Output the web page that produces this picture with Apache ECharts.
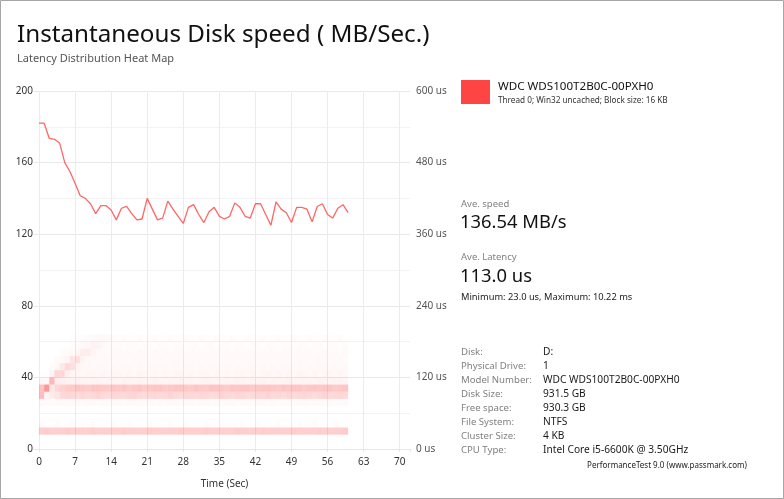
<!DOCTYPE html>
<html>
<head>
<meta charset="utf-8">
<script src="https://cdn.jsdelivr.net/npm/echarts@6/dist/echarts.min.js"></script>
<style>
html,body{margin:0;padding:0;background:#fff;}
#chart{width:784px;height:499px;}
</style>
</head>
<body>
<div id="chart"></div>
<script>
// ---------- DATA ----------
const timeSec = [0,1,2,3,4,5,6,7,8,9,10,11,12,13,14,15,16,17,18,19,20,21,22,23,24,25,26,27,28,29,30,31,32,33,34,35,36,37,38,39,40,41,42,43,44,45,46,47,48,49,50,51,52,53,54,55,56,57,58,59,60];
const speedMBs = [182,182,173.5,173,171,160,155,148.5,141.5,140,137,131.5,136,136,133.5,128,134.5,135.5,131.5,128,128.5,140,134,128,129,138.5,134,130,126,135,136.5,131,126.5,132.5,135,130,128.5,130,137.5,135,130,129,137,137,131,125,138,134,132,126.5,135,135,134,127,135.5,137,131,129,134.5,136.5,132];

const xTicks = [0,7,14,21,28,35,42,49,56,63,70];
const speedTicks = [0,40,80,120,160,200];
const latencyTicks = ['0 us','120 us','240 us','360 us','480 us','600 us'];

// latency histogram rows (bin lower edge in us, bin width 12 us), intensity in % per second column 0..59
const binWidthUs = 12;
const row24  = [26,27,26,25,26,27,26,26,25,26,27,26,26,25,26,26,27,26,25,26,26,27,26,26,25,26,26,27,26,26,25,26,27,26,26,25,26,26,27,26,26,25,26,27,26,26,25,26,26,27,26,26,25,26,27,26,26,25,26,27];
const row36  = [2,1,1,2,1,1,2,1,1,1,2,1,1,1,2,1,1,2,1,1,1,2,1,1,1,2,1,1,2,1,1,1,2,1,1,2,1,1,1,2,1,1,2,1,1,1,2,1,1,1,2,1,1,2,1,1,1,2,1,1];
const row72  = [3,2,2,3,3,2,3,3,2,3,3,2,3,2,3,3,2,3,3,2,3,3,2,3,2,3,3,2,3,3,2,3,3,2,3,2,3,3,2,3,3,2,3,3,2,3,2,3,3,2,3,3,2,3,3,2,3,2,3,3];
const row84  = [34,6,10,14,20,22,21,19,22,20,21,23,20,19,22,21,20,22,23,20,19,21,22,20,21,23,20,19,22,21,20,22,21,19,20,23,21,20,22,21,19,20,22,21,23,20,21,19,22,20,21,22,20,19,21,23,20,21,22,20];
const row96  = [32,55,12,20,24,27,28,30,29,28,30,31,29,28,30,29,31,28,29,30,28,29,31,30,28,29,30,31,29,28,30,29,28,31,30,29,28,30,29,31,30,28,29,30,31,29,28,30,29,30,31,28,29,30,29,31,30,28,29,30];
const row108 = [5,4,38,10,8,7,6,7,6,5,6,7,5,6,6,5,7,6,5,6,6,5,7,6,5,6,6,7,5,6,5,6,7,6,5,6,6,5,7,6,5,6,6,7,5,6,5,6,7,6,5,6,6,5,7,6,5,6,6,5];
const row120 = [0,0,6,22,20,8,5,5,4,5,5,4,5,4,5,5,4,5,4,5,5,4,5,4,5,4,5,5,4,5,4,5,5,4,5,4,5,4,5,5,4,5,4,5,5,4,5,4,5,4,5,5,4,5,4,5,5,4,5,4];
const row132 = [0,0,2,4,12,20,16,6,4,4,3,4,4,3,4,3,4,4,3,4,3,4,4,3,4,3,4,3,4,4,3,4,3,4,4,3,4,3,4,3,4,4,3,4,3,4,3,4,4,3,4,3,4,3,4,4,3,4,3,4];
const row144 = [0,0,0,2,3,5,14,16,6,4,3,3,3,3,2,3,3,2,3,3,3,2,3,3,2,3,3,3,2,3,3,2,3,3,3,2,3,3,2,3,3,3,2,3,3,2,3,3,3,2,3,3,2,3,3,3,2,3,3,2];
const row156 = [0,0,0,0,2,2,3,5,10,10,5,3,3,2,3,3,2,3,2,3,3,2,3,2,3,2,3,3,2,3,2,3,2,3,3,2,3,2,3,2,3,3,2,3,2,3,2,3,3,2,3,2,3,2,3,3,2,3,2,3];
const row168 = [0,0,0,0,0,1,2,2,3,4,7,7,4,2,2,2,1,2,2,1,2,2,1,2,2,1,2,2,1,2,2,1,2,2,1,2,2,1,2,2,1,2,2,1,2,2,1,2,2,1,2,2,1,2,2,1,2,2,1,2];
const row180 = [0,0,0,0,0,0,1,1,2,2,3,4,4,3,2,1,2,1,1,2,1,1,2,1,1,2,1,1,2,1,1,2,1,1,2,1,1,2,1,1,2,1,1,2,1,1,2,1,1,2,1,1,2,1,1,2,1,1,2,1];
const latencyRows = [
  [24,row24],[36,row36],[72,row72],[84,row84],[96,row96],[108,row108],
  [120,row120],[132,row132],[144,row144],[156,row156],[168,row168],[180,row180]
];

// build heat cells [t, binLow, intensity]
const heatCells = [];
latencyRows.forEach(([lo,vals]) => {
  vals.forEach((v,t) => { if (v > 0) heatCells.push([t, lo, v]); });
});

const FONT = 'Noto Sans';

const infoLabels = ['Disk:','Physical Drive:','Model Number:','Disk Size:','Free space:','File System:','Cluster Size:','CPU Type:'];
const infoValues = ['D:','1','WDC WDS100T2B0C-00PXH0','931.5 GB','930.3 GB','NTFS','4 KB','Intel Core i5-6600K @ 3.50GHz'];

function txt(x, y, s, size, color, align) {
  return {type:'text', x:x, y:y, silent:true,
    style:{text:s, font:size + 'px "' + FONT + '"', fill:color, textAlign:align || 'left', textVerticalAlign:'middle'}};
}

const graphics = [
  {type:'rect', shape:{x:0.5,y:0.5,width:783,height:498}, style:{fill:'none',stroke:'#a6a6a6',lineWidth:1}, silent:true},
  {type:'rect', shape:{x:461,y:80,width:29,height:24}, style:{fill:'#ff4444'}, silent:true},
  txt(498, 87, 'WDC WDS100T2B0C-00PXH0', 11.6, '#111'),
  txt(498, 101, 'Thread 0; Win32 uncached; Block size: 16 KB', 8.2, '#333'),
  txt(461, 204, 'Ave. speed', 9.5, '#808080'),
  txt(460, 223, '136.54 MB/s', 18.4, '#111'),
  txt(461, 257, 'Ave. Latency', 9.5, '#808080'),
  txt(460, 277, '113.0 us', 18.4, '#111'),
  txt(461, 297, 'Minimum: 23.0 us, Maximum: 10.22 ms', 9.3, '#222'),
  txt(667, 466, 'PerformanceTest 9.0 (www.passmark.com)', 8, '#222', 'center')
];
infoLabels.forEach((lab,i) => {
  const y = 352 + i*14.05;
  graphics.push(txt(461, y, lab, 9.6, '#808080'));
  graphics.push(txt(543, y, infoValues[i], 10.2, '#1a1a1a'));
});

const chart = echarts.init(document.getElementById('chart'), null, {renderer:'canvas'});
const option = {
  backgroundColor:'#ffffff',
  animation:false,
  textStyle:{fontFamily:FONT},
  title:{
    text:'Instantaneous Disk speed ( MB/Sec.)',
    subtext:'Latency Distribution Heat Map',
    left:12, top:18,
    itemGap:6,
    textStyle:{fontSize:24.2, fontWeight:'normal', color:'#111', fontFamily:FONT},
    subtextStyle:{fontSize:11, color:'#555', fontFamily:FONT}
  },
  grid:{left:39, right:374, top:91, bottom:50},
  xAxis:{
    type:'value', min:0, max:72, interval:7,
    name:'Time (Sec)', nameLocation:'middle', nameGap:30,
    nameTextStyle:{fontSize:10, color:'#333', fontFamily:FONT},
    axisLine:{show:true, lineStyle:{color:'#e6e6e6'}},
    axisTick:{show:true, length:3, lineStyle:{color:'#e6e6e6'}},
    axisLabel:{fontSize:10, color:'#333', margin:8, fontFamily:FONT,
      formatter:(v)=> xTicks.indexOf(v) >= 0 ? String(v) : ''},
    splitLine:{show:true, showMaxLine:false, lineStyle:{color:'#ececec'}}
  },
  yAxis:[
    {
      type:'value', min:0, max:200, interval:40, position:'left',
      axisLine:{show:false},
      axisTick:{show:true, length:5, lineStyle:{color:'#e6e6e6'}},
      axisLabel:{fontSize:10, color:'#333', margin:6, fontFamily:FONT,
        formatter:(v)=> speedTicks.indexOf(v) >= 0 ? String(v) : ''},
      splitLine:{show:true, lineStyle:{color:'#e9e9e9'}},
      minorTick:{show:false, splitNumber:2},
      minorSplitLine:{show:true, lineStyle:{color:'#f3f3f3'}}
    },
    {
      type:'value', min:0, max:600, interval:120, position:'right',
      axisLine:{show:false}, axisTick:{show:false},
      splitLine:{show:false},
      axisLabel:{fontSize:10, color:'#555', margin:6, fontFamily:FONT,
        formatter:(v)=> latencyTicks[Math.round(v/120)]}
    }
  ],
  graphic:graphics,
  series:[
    {
      type:'custom', name:'latency', xAxisIndex:0, yAxisIndex:1,
      data:heatCells, encode:{x:0, y:1}, silent:true, z:1,
      renderItem:(params, api) => {
        const t = api.value(0), lo = api.value(1), a = api.value(2);
        const p0 = api.coord([t, lo + binWidthUs]);
        const p1 = api.coord([t + 1, lo]);
        return {type:'rect',
          shape:{x:p0[0], y:p0[1], width:p1[0]-p0[0], height:p1[1]-p0[1]},
          style:{fill:'rgba(255,64,64,' + (a/100) + ')'}};
      }
    },
    {
      type:'line', name:'WDC WDS100T2B0C-00PXH0', xAxisIndex:0, yAxisIndex:0,
      data:timeSec.map((t,i)=>[t, speedMBs[i]]),
      showSymbol:false, symbol:'none', z:5,
      lineStyle:{color:'#ff6666', width:1.3}
    }
  ]
};
chart.setOption(option);
</script>
</body>
</html>
